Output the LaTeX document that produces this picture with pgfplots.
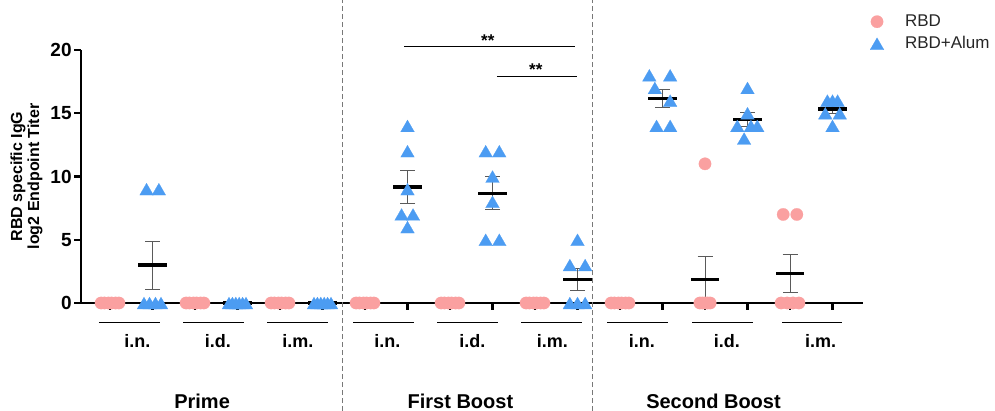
\documentclass[border=0pt]{standalone}
\usepackage{fontspec}
\setmainfont{Liberation Sans}
\usepackage{pgfplots}
\pgfplotsset{compat=1.18}

\definecolor{rbdpink}{RGB}{250,160,160}
\definecolor{alumblue}{RGB}{76,156,242}
\definecolor{errgray}{RGB}{90,90,90}
\definecolor{dashgray}{RGB}{120,120,120}

% legend picture: marker at 0, text starts 14pt to the right
\pgfplotsset{
  dotlegend/.style={legend image code/.code={%
    \draw[##1] plot coordinates {(0pt,0pt)};
    \path[draw=none, fill=none] (-4pt,-5.5pt) rectangle (14pt,5.5pt);}},
}
\tikzset{
  route/.style={font=\bfseries\fontsize{9}{10}\selectfont},
  phase/.style={font=\bfseries\fontsize{10}{12}\selectfont},
  stars/.style={anchor=base, font=\bfseries\fontsize{8.5}{10}\selectfont, inner sep=0pt},
}

\begin{document}
\begin{tikzpicture}
\begin{axis}[
  at={(40.5pt,54pt)}, anchor=south west,
  scale only axis, width=391pt, height=126.5pt,
  xmin=-0.6824, xmax=17.7176, ymin=0, ymax=20,
  axis lines*=left,
  axis line style={line width=1.3pt},
  clip=false,
  xtick={0,...,17}, xticklabel=\empty,
  ytick={0,5,10,15,20},
  tick align=outside,
  major tick length=3.5pt,
  tick style={line width=1.2pt, black},
  /pgf/number format/assume math mode=true,
  yticklabel style={font=\bfseries\fontsize{9.5}{11}\selectfont, inner sep=1pt},
  ylabel={RBD specific IgG\\log2 Endpoint Titer},
  ylabel style={at={(axis description cs:-0.0697,0.5)}, anchor=center,
    align=center, font=\bfseries\fontsize{8}{7.3}\selectfont},
  legend style={at={(axis description cs:1.0077,1.1553)}, anchor=north west,
    draw=none, fill=none, inner sep=0pt, outer sep=0pt, row sep=0pt,
    font=\fontsize{8.5}{10}\selectfont, text=black!85,
    nodes={inner sep=0pt, draw=none}},
  legend cell align=left,
]

% group separators
\draw[dashgray, line width=0.5pt, dash pattern=on 2.5pt off 1.5pt] (5.48,-8.54) -- (5.48,23.95);
\draw[dashgray, line width=0.5pt, dash pattern=on 2.5pt off 1.5pt] (11.36,-8.54) -- (11.36,23.95);

% route underlines
\draw[line width=0.8pt] (-0.259,-1.54) -- (1.176,-1.54);
\draw[line width=0.8pt] (1.718,-1.54) -- (3.153,-1.54);
\draw[line width=0.8pt] (3.694,-1.54) -- (5.129,-1.54);
\draw[line width=0.8pt] (5.718,-1.54) -- (7.153,-1.54);
\draw[line width=0.8pt] (7.694,-1.54) -- (9.129,-1.54);
\draw[line width=0.8pt] (9.671,-1.54) -- (11.106,-1.54);
\draw[line width=0.8pt] (11.694,-1.54) -- (13.129,-1.54);
\draw[line width=0.8pt] (13.694,-1.54) -- (15.129,-1.54);
\draw[line width=0.8pt] (15.812,-1.54) -- (17.224,-1.54);

\node[route] at (0.643,-3.0) {i.n.};
\node[route] at (2.539,-3.0) {i.d.};
\node[route] at (4.42,-3.0) {i.m.};
\node[route] at (6.527,-3.0) {i.n.};
\node[route] at (8.527,-3.0) {i.d.};
\node[route] at (10.407,-3.0) {i.m.};
\node[route] at (12.513,-3.0) {i.n.};
\node[route] at (14.513,-3.0) {i.d.};
\node[route] at (16.718,-3.0) {i.m.};

\node[phase] at (2.167,-7.8) {Prime};
\node[phase] at (8.245,-7.8) {First Boost};
\node[phase] at (14.2,-7.8) {Second Boost};

% significance
\draw[line width=0.5pt] (6.92,20.24) -- (10.94,20.24);
\node[stars] at (8.89,20.3) {**};
\draw[line width=0.5pt] (9.1,17.94) -- (10.99,17.94);
\node[stars] at (10.02,18.0) {**};

% mean +- SEM
\addplot[forget plot, only marks, mark=-, mark size=7.1pt,
  mark options={line width=1.6pt, black},
  error bars/.cd, y dir=both, y explicit,
  error bar style={line width=0.5pt, errgray},
  error mark options={rotate=90, mark size=3.75pt, line width=0.5pt, errgray}]
coordinates {
  (0,0) +- (0,0)  (1,3) +- (0,1.897)
  (2,0) +- (0,0)  (3,0) +- (0,0)
  (4,0) +- (0,0)  (5,0) +- (0,0)
  (6,0) +- (0,0)  (7,9.167) +- (0,1.302)
  (8,0) +- (0,0)  (9,8.667) +- (0,1.308)
  (10,0) +- (0,0) (11,1.833) +- (0,0.872)
  (12,0) +- (0,0) (13,16.167) +- (0,0.749)
  (14,1.833) +- (0,1.833) (15,14.5) +- (0,0.563)
  (16,2.333) +- (0,1.476) (17,15.333) +- (0,0.333)
};

% RBD
\addplot[only marks, dotlegend, color=rbdpink, mark=*, mark size=3.1pt,
  mark options={draw=rbdpink, fill=rbdpink, line width=0.1pt}]
coordinates {
  (-0.21,0) (-0.13,0) (-0.04,0) (0.04,0) (0.13,0) (0.21,0)
  (1.79,0) (1.87,0) (1.96,0) (2.04,0) (2.13,0) (2.21,0)
  (3.79,0) (3.87,0) (3.96,0) (4.04,0) (4.13,0) (4.21,0)
  (5.79,0) (5.87,0) (5.96,0) (6.04,0) (6.13,0) (6.21,0)
  (7.79,0) (7.87,0) (7.96,0) (8.04,0) (8.13,0) (8.21,0)
  (9.79,0) (9.87,0) (9.96,0) (10.04,0) (10.13,0) (10.21,0)
  (11.79,0) (11.87,0) (11.96,0) (12.04,0) (12.13,0) (12.21,0)
  (14,11) (13.88,0) (13.94,0) (14,0) (14.06,0) (14.12,0)
  (15.84,7) (16.16,7) (15.79,0) (15.93,0) (16.07,0) (16.21,0)
};
\addlegendentry{RBD}

% RBD+Alum
\addplot[only marks, dotlegend, color=alumblue, mark=triangle*, mark size=3.95pt,
  mark options={draw=alumblue, fill=alumblue, line width=0.1pt, yshift=-1pt}]
coordinates {
  (0.86,9) (1.15,9) (0.8,0) (0.93,0) (1.07,0) (1.2,0)
  (2.8,0) (2.88,0) (2.96,0) (3.04,0) (3.12,0) (3.2,0)
  (4.8,0) (4.88,0) (4.96,0) (5.04,0) (5.12,0) (5.2,0)
  (7,14) (7,12) (7,9) (6.86,7) (7.13,7) (7,6)
  (8.84,12) (9.16,12) (9,10) (9,8) (8.84,5) (9.16,5)
  (11,5) (10.82,3) (11.18,3) (10.82,0) (11,0) (11.18,0)
  (12.69,18) (13.18,18) (12.82,17) (13.18,16) (12.86,14) (13.18,14)
  (15,17) (15,15) (14.76,14) (15.08,14) (15.23,14) (14.92,13)
  (16.88,16) (17,16) (17.12,16) (16.83,15) (17.17,15) (17,14)
};
\addlegendentry{RBD+Alum}

\end{axis}
\pgfresetboundingbox
\path[use as bounding box] (0,0) rectangle (497.5pt,205.5pt);
\end{tikzpicture}
\end{document}
